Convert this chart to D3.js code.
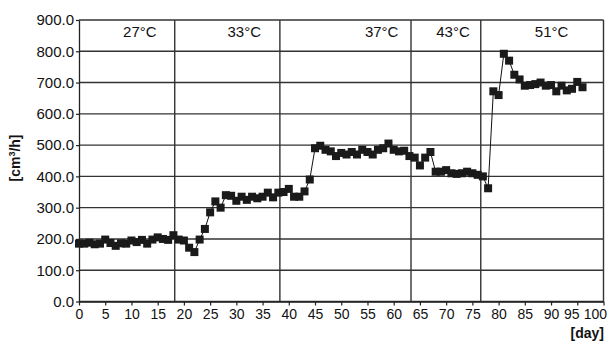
<html>
<head>
<script src="https://d3js.org/d3.v7.min.js"></script>
<style>
  body { margin: 0; background: white; }
  text { font-family: "Liberation Sans", Arial, sans-serif; }
</style>
</head>
<body>
<svg id="chart" width="611" height="342"></svg>
<script>
// daily readings, day 0..96
var days = d3.range(0, 97);
var flow = [185, 185, 188, 183, 185, 198, 187, 178, 186, 185,
            195, 190, 197, 185, 198, 205, 200, 197, 212, 198,
            195, 172, 158, 198, 232, 285, 320, 300, 340, 338,
            322, 335, 325, 335, 330, 335, 348, 333, 348, 350,
            360, 335, 335, 352, 390, 490, 498, 485, 480, 465,
            475, 470, 478, 470, 485, 478, 470, 485, 490, 505,
            485, 480, 482, 465, 460, 435, 460, 478, 415, 415,
            420, 410, 408, 410, 415, 410, 405, 400, 362, 672,
            660, 792, 770, 725, 710, 690, 692, 695, 700, 690,
            692, 672, 690, 675, 680, 702, 685];
// temperature phases: boundaries (day) and labels
var phaseBreaks = [18.25, 38.3, 63.3, 76.6];
var phaseLabels = ["27°C", "33°C", "37°C", "43°C", "51°C"];
var phaseLabelX = [11.6, 31.5, 57.7, 71.3, 90.1];
var xTicks = d3.range(0, 101, 5);
var yTicks = d3.range(0, 901, 100);

var svg = d3.select("#chart");
var margin = {left: 79, right: 7.5, top: 20, bottom: 40.5};
var w = 611 - margin.left - margin.right;
var h = 342 - margin.top - margin.bottom;

var x = d3.scaleLinear().domain([0, 100]).range([0, w]);
var y = d3.scaleLinear().domain([0, 900]).range([h, 0]);

var g = svg.append("g").attr("transform", "translate(" + margin.left + "," + margin.top + ")");

// horizontal grid
g.append("g").selectAll("line").data(yTicks).enter().append("line")
    .attr("x1", 0).attr("x2", w)
    .attr("y1", function(d) { return y(d); }).attr("y2", function(d) { return y(d); })
    .style("stroke", "#333").style("stroke-width", 1.4);

// right frame
g.append("line").attr("x1", w).attr("x2", w).attr("y1", 0).attr("y2", h)
    .style("stroke", "#333").style("stroke-width", 1.4);

// phase dividers
g.append("g").selectAll("line").data(phaseBreaks).enter().append("line")
    .attr("x1", function(d) { return x(d); }).attr("x2", function(d) { return x(d); })
    .attr("y1", 0).attr("y2", h)
    .style("stroke", "#333").style("stroke-width", 1.4);

g.append("g").selectAll("text").data(phaseLabels).enter().append("text")
    .attr("x", function(d, i) { return x(phaseLabelX[i]); })
    .attr("y", 17)
    .attr("text-anchor", "middle")
    .style("font-size", "15px")
    .style("fill", "#111")
    .text(function(d) { return d; });

// axes
var yAxis = g.append("g")
    .call(d3.axisLeft(y).tickValues(yTicks).tickFormat(d3.format(".1f")).tickSize(3).tickSizeOuter(0));
var xAxis = g.append("g").attr("transform", "translate(0," + h + ")")
    .call(d3.axisBottom(x).tickValues(xTicks).tickSize(4).tickSizeOuter(0));
[yAxis, xAxis].forEach(function(a) {
    a.select(".domain").style("stroke", "#222").style("stroke-width", 1.3);
    a.selectAll(".tick line").style("stroke", "#222").style("stroke-width", 1.2);
    a.selectAll("text").style("font-size", "15px").style("fill", "#111")
        .style("font-family", "'Liberation Sans', Arial, sans-serif");
});
yAxis.selectAll("text").attr("x", -5);
xAxis.selectAll("text").attr("y", 8).style("font-size", "14px");
// squeeze the last two labels inside the frame, as in the original
xAxis.selectAll(".tick text").filter(function(d) { return d === 95; }).attr("x", -6);
xAxis.selectAll(".tick text").filter(function(d) { return d === 100; })
    .attr("text-anchor", "end").attr("x", 3);

// data line + markers
var pts = days.map(function(d, i) { return [d, flow[i]]; });
g.append("path").datum(pts)
    .attr("d", d3.line().x(function(d) { return x(d[0]); }).y(function(d) { return y(d[1]); }))
    .style("fill", "none").style("stroke", "#111").style("stroke-width", 1);

g.append("g").selectAll("rect").data(pts).enter().append("rect")
    .attr("x", function(d) { return x(d[0]) - 4; })
    .attr("y", function(d) { return y(d[1]) - 4; })
    .attr("width", 8).attr("height", 8)
    .style("fill", "#1a1a1a");

// axis titles
svg.append("text")
    .attr("transform", "translate(20,158) rotate(-90)")
    .attr("text-anchor", "middle")
    .style("font-size", "14px").style("font-weight", "bold").style("fill", "#111")
    .html("[cm<tspan dy='-5' style='font-size:9px'>3</tspan><tspan dy='5'>/h]</tspan>");

svg.append("text")
    .attr("x", 604).attr("y", 338)
    .attr("text-anchor", "end")
    .style("font-size", "14px").style("font-weight", "bold").style("fill", "#111")
    .text("[day]");
</script>
</body>
</html>
